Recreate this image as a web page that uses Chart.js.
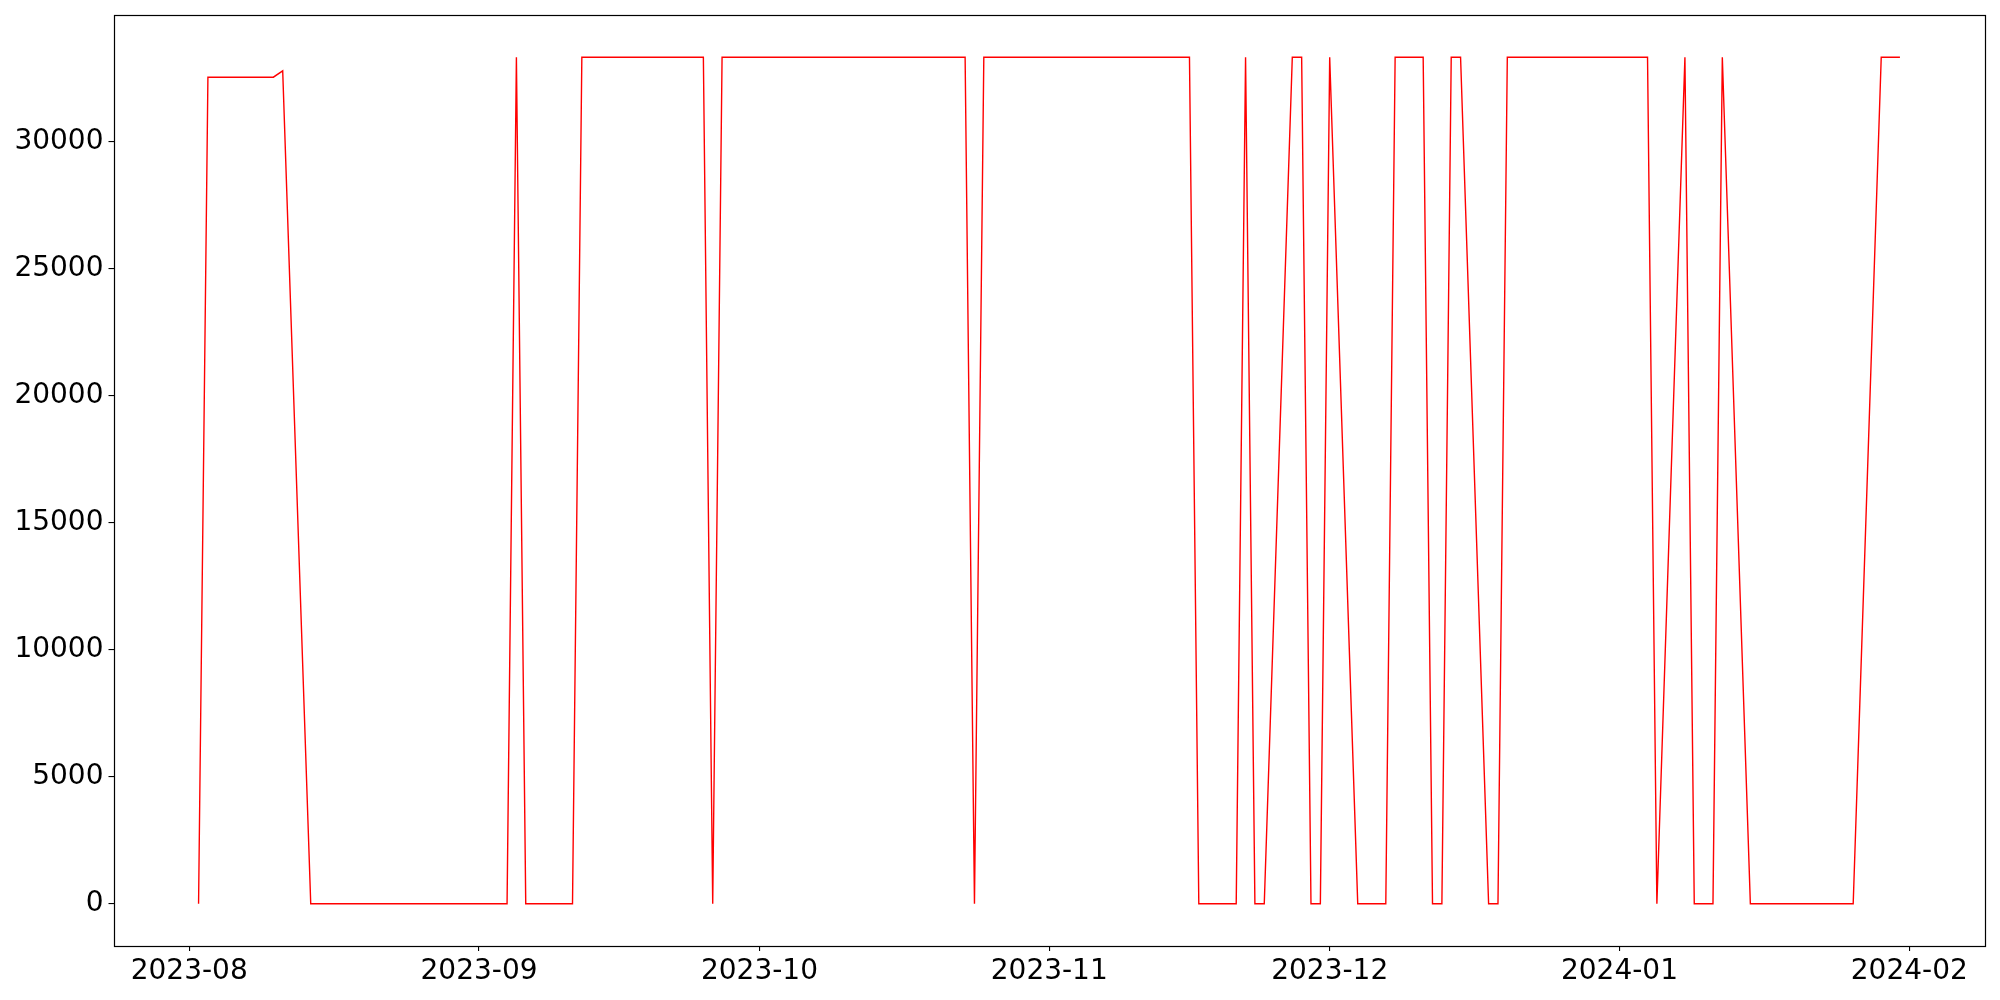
<!DOCTYPE html>
<html>
<head>
<meta charset="utf-8">
<script src="https://cdn.jsdelivr.net/npm/chart.js@4.4.0/dist/chart.umd.min.js"></script>
<style>
  html, body { margin: 0; padding: 0; background: #fff; }
  #wrap { width: 2000px; height: 1000px; }
</style>
</head>
<body>
<div id="wrap"><canvas id="chart" width="2000" height="1000"></canvas></div>
<script>
// ---- data (weekdays only) ----
const dates = [
  '2023-08-02','2023-08-03','2023-08-04',
  '2023-08-07','2023-08-08','2023-08-09','2023-08-10','2023-08-11',
  '2023-08-14','2023-08-15','2023-08-16','2023-08-17','2023-08-18',
  '2023-08-21','2023-08-22','2023-08-23','2023-08-24','2023-08-25',
  '2023-08-28','2023-08-29','2023-08-30','2023-08-31','2023-09-01',
  '2023-09-04','2023-09-05','2023-09-06','2023-09-07','2023-09-08',
  '2023-09-11','2023-09-12','2023-09-13','2023-09-14','2023-09-15',
  '2023-09-18','2023-09-19','2023-09-20','2023-09-21','2023-09-22',
  '2023-09-25','2023-09-26','2023-09-27','2023-09-28','2023-09-29',
  '2023-10-02','2023-10-03','2023-10-04','2023-10-05','2023-10-06',
  '2023-10-09','2023-10-10','2023-10-11','2023-10-12','2023-10-13',
  '2023-10-16','2023-10-17','2023-10-18','2023-10-19','2023-10-20',
  '2023-10-23','2023-10-24','2023-10-25','2023-10-26','2023-10-27',
  '2023-10-30','2023-10-31','2023-11-01','2023-11-02','2023-11-03',
  '2023-11-06','2023-11-07','2023-11-08','2023-11-09','2023-11-10',
  '2023-11-13','2023-11-14','2023-11-15','2023-11-16','2023-11-17',
  '2023-11-20','2023-11-21','2023-11-22','2023-11-23','2023-11-24',
  '2023-11-27','2023-11-28','2023-11-29','2023-11-30','2023-12-01',
  '2023-12-04','2023-12-05','2023-12-06','2023-12-07','2023-12-08',
  '2023-12-11','2023-12-12','2023-12-13','2023-12-14','2023-12-15',
  '2023-12-18','2023-12-19','2023-12-20','2023-12-21','2023-12-22',
  '2023-12-25','2023-12-26','2023-12-27','2023-12-28','2023-12-29',
  '2024-01-01','2024-01-02','2024-01-03','2024-01-04','2024-01-05',
  '2024-01-08','2024-01-09','2024-01-10','2024-01-11','2024-01-12',
  '2024-01-15','2024-01-16','2024-01-17','2024-01-18','2024-01-19',
  '2024-01-22','2024-01-23','2024-01-24','2024-01-25','2024-01-26',
  '2024-01-29','2024-01-30','2024-01-31'
];
const values = [
  0, 32550, 32550,
  32550, 32550, 32550, 32550, 32800,
  0, 0, 0, 0, 0,
  0, 0, 0, 0, 0,
  0, 0, 0, 0, 0,
  0, 33333, 0, 0, 0,
  0, 33333, 33333, 33333, 33333,
  33333, 33333, 33333, 33333, 33333,
  33333, 0, 33333, 33333, 33333,
  33333, 33333, 33333, 33333, 33333,
  33333, 33333, 33333, 33333, 33333,
  33333, 33333, 33333, 33333, 33333,
  33333, 0, 33333, 33333, 33333,
  33333, 33333, 33333, 33333, 33333,
  33333, 33333, 33333, 33333, 33333,
  33333, 33333, 33333, 33333, 0,
  0, 0, 33333, 0, 0,
  33333, 33333, 0, 0, 33333,
  0, 0, 0, 0, 33333,
  33333, 0, 0, 33333, 33333,
  0, 0, 33333, 33333, 33333,
  33333, 33333, 33333, 33333, 33333,
  33333, 33333, 33333, 33333, 0,
  33333, 0, 0, 0, 33333,
  0, 0, 0, 0, 0,
  0, 0, 0, 0, 0,
  33333, 33333, 33333
];
const monthTicks = ['2023-08-01','2023-09-01','2023-10-01','2023-11-01','2023-12-01','2024-01-01','2024-02-01'];
const monthLabels = ['2023-08','2023-09','2023-10','2023-11','2023-12','2024-01','2024-02'];
const yTicks = [0, 5000, 10000, 15000, 20000, 25000, 30000];

// x axis in days since 2023-08-01 (no date adapter available)
const BASE = Date.parse('2023-08-01');
const toDay = s => (Date.parse(s) - BASE) / 86400000;

const points = dates.map((d, i) => ({ x: toDay(d), y: values[i] }));

const xMinData = toDay(dates[0]), xMaxData = toDay(dates[dates.length - 1]);
const xPad = (xMaxData - xMinData) * 0.05;
const yMaxData = Math.max(...values);
const yPad = yMaxData * 0.05;

Chart.defaults.font.family = 'DejaVu Sans';
Chart.defaults.font.size = 28;
Chart.defaults.color = '#000';

// box round the plot area, drawn from the scales' own edges
const framePlugin = {
  id: 'frame',
  afterDraw(chart) {
    const ctx = chart.ctx, xs = chart.scales.x, ys = chart.scales.y;
    const l = Math.round(xs.left) + 0.5, r = Math.round(xs.right) + 0.5;
    const t = Math.round(ys.top) + 0.5, b = Math.round(ys.bottom) + 0.5;
    ctx.save();
    ctx.strokeStyle = '#000';
    ctx.lineWidth = 1.2;
    ctx.strokeRect(l, t, r - l, b - t);
    ctx.restore();
  }
};

new Chart(document.getElementById('chart'), {
  type: 'line',
  data: {
    datasets: [{
      data: points,
      borderColor: '#ff0000',
      borderWidth: 1.4,
      pointRadius: 0,
      tension: 0,
      fill: false
    }]
  },
  options: {
    responsive: false,
    animation: false,
    parsing: false,
    layout: { padding: { top: 15, right: 15, left: 0, bottom: 0 } },
    plugins: { legend: { display: false }, tooltip: { enabled: false } },
    scales: {
      x: {
        type: 'linear',
        min: xMinData - xPad,
        max: xMaxData + xPad,
        border: { display: false },
        grid: { display: true, drawOnChartArea: false, drawTicks: true, tickLength: 5, color: '#000', lineWidth: 1.1 },
        afterBuildTicks: s => { s.ticks = monthTicks.map(t => ({ value: toDay(t) })); },
        afterFit: s => { s.height = 54; s.paddingLeft = 0; s.paddingRight = 0; },
        ticks: {
          padding: 4,
          maxRotation: 0,
          autoSkip: false,
          callback: (v, i) => monthLabels[i]
        }
      },
      y: {
        min: -yPad,
        max: yMaxData + yPad,
        border: { display: false },
        grid: { display: true, drawOnChartArea: false, drawTicks: true, tickLength: 5, color: '#000', lineWidth: 1.1 },
        afterBuildTicks: s => { s.ticks = yTicks.map(v => ({ value: v })); },
        afterFit: s => { s.width = 113.5; s.paddingTop = 0; s.paddingBottom = 0; },
        ticks: {
          padding: 5,
          autoSkip: false,
          callback: v => String(v)
        }
      }
    }
  },
  plugins: [framePlugin]
});
</script>
</body>
</html>
